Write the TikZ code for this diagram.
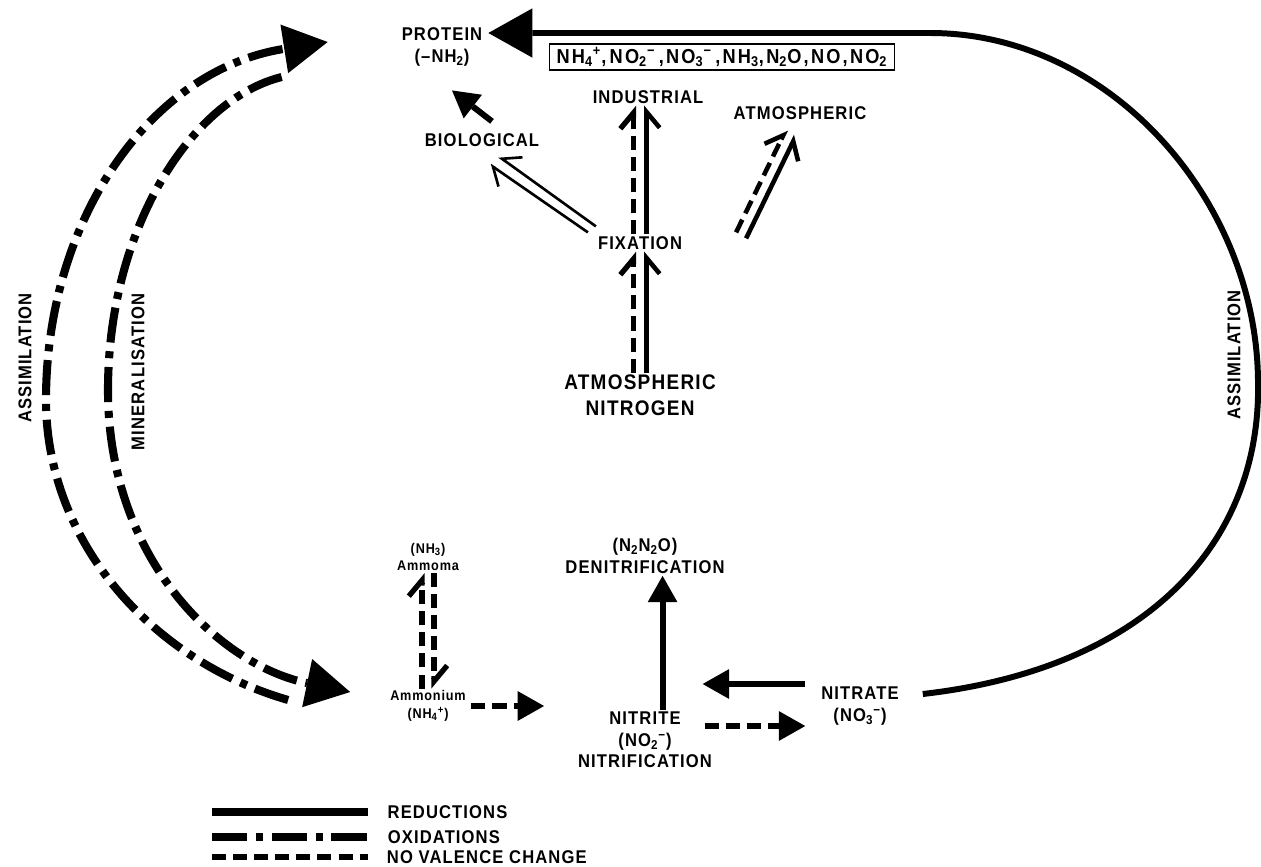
\documentclass[tikz,border=0pt]{standalone}
\usepackage{fontspec}
\setmainfont{Liberation Sans}[FakeStretch=0.9, LetterSpace=6]
\usetikzlibrary{arrows.meta, calc, positioning}

\begin{document}
\begin{tikzpicture}[x=0.02cm, y=-0.02cm,
    lbl/.style={font=\fontsize{10.5}{12.5}\selectfont\bfseries, align=center, inner sep=1pt},
    biglbl/.style={lbl, font=\fontsize{12}{14.5}\selectfont\bfseries},
    smlbl/.style={lbl, font=\fontsize{8}{10}\selectfont\bfseries},
    reduc/.style={line width=3.4pt},
    oxid/.style={line width=4.6pt, dash pattern=on 20pt off 5pt on 4pt off 5pt},
    novc/.style={line width=3pt, dash pattern=on 8pt off 4pt},
    thinl/.style={line width=1.5pt},
    bigtip/.style={-{Triangle[length=25pt, width=28pt, line width=0pt]}},
    midtip/.style={-{Triangle[length=15pt, width=17pt, line width=0pt]}},
    hl/.style={-{Straight Barb[left, length=9pt, width=15pt]}},
    hr/.style={-{Straight Barb[right, length=9pt, width=15pt]}}]
  \useasboundingbox (0,0) rectangle (1261,866);

  % compounds and processes
  \node[lbl] (protein) at (442,47) {PROTEIN\\(–NH\textsubscript{2})};
  \node[lbl, font=\fontsize{11.5}{13}\selectfont\bfseries\addfontfeatures{LetterSpace=11}, draw, line width=1.1pt,
    inner xsep=4pt, inner ysep=2pt] (mix) at (722,57)
    {NH\textsubscript{4}\textsuperscript{+},\,NO\textsubscript{2}\textsuperscript{−}\,,NO\textsubscript{3}\textsuperscript{−}\,,NH\textsubscript{3},N\textsubscript{2}O,NO,NO\textsubscript{2}};
  \node[lbl] (industrial) at (648,97) {INDUSTRIAL};
  \node[lbl] (atmos) at (800,113) {ATMOSPHERIC};
  \node[lbl] (biological) at (482,140) {BIOLOGICAL};
  \node[lbl] (fixation) at (640,243) {FIXATION};
  \node[biglbl] (atmN) at (640,395) {ATMOSPHERIC\\NITROGEN};
  \node[lbl] (denit) at (645,556) {(N\textsubscript{2}N\textsubscript{2}O)\\DENITRIFICATION};
  \node[smlbl] (ammonia) at (428,557) {(NH\textsubscript{3})\\Ammoma};
  \node[smlbl] (ammonium) at (428,706) {Ammonium\\(NH\textsubscript{4}\textsuperscript{+})};
  \node[lbl] (nitrite) at (645,731) {NITRITE\\(NO\textsubscript{2}\textsuperscript{−})};
  \node[lbl, below=0pt of nitrite] (nitrification) {NITRIFICATION};
  \node[lbl] (nitrate) at (860,706) {NITRATE\\(NO\textsubscript{3}\textsuperscript{−})};
  \node[lbl, rotate=90] (assimL) at (25,358) {ASSIMILATION};
  \node[lbl, rotate=90] (mineral) at (138,372) {MINERALISATION};
  \node[lbl, rotate=90] (assimR) at (1234,355) {ASSIMILATION};

  % nitrate back to protein, round the right
  \draw[reduc, bigtip] ($(nitrate.east)+(22,-12)$) .. controls (1150,668) and (1262,540) .. (1258,380)
    .. controls (1256,200) and (1110,33) .. (930,33) -- ($(protein.east)+(4,-14)$);
  % left arcs
  \draw[oxid, bigtip] ($(ammonium.west)+(-100,-6)$) .. controls (150,660) and (46,540) .. (46,400)
    .. controls (46,220) and (150,70) .. ($(protein.west)+(-72,-5)$);
  \draw[oxid, bigtip] ($(protein.west)+(-118,30)$) .. controls (190,100) and (108,230) .. (108,390)
    .. controls (108,560) and (220,665) .. ($(ammonium.west)+(-38,-14)$);

  % fixation
  \draw[reduc, midtip] ($(biological.north)+(10,-10)$) -- ($(protein.south)+(10,22)$);
  \draw[thinl, hl] ($(fixation.north west)+(-8,-2)$) -- ($(biological.south)+(8,16)$);
  \draw[thinl, hr] ($(fixation.north west)+(0,-8)$) -- ($(biological.south)+(17,8)$);
  \draw[novc, hl] ([xshift=-0.13cm]fixation.north) -- ([xshift=-0.13cm]fixation.north |- industrial.south);
  \draw[reduc, line width=2.6pt, hr] ([xshift=0.13cm]fixation.north) -- ([xshift=0.13cm]fixation.north |- industrial.south);
  \draw[novc, line width=2.6pt, hl] ($(fixation.north east)+(52,-2)$) -- ($(atmos.south)+(-14,8)$);
  \draw[reduc, line width=2.6pt, hr] ($(fixation.north east)+(62,4)$) -- ($(atmos.south)+(-4,14)$);
  \draw[novc, hl] ([xshift=-0.13cm]atmN.north) -- ([xshift=-0.13cm]fixation.south);
  \draw[reduc, line width=2.6pt, hr] ([xshift=0.13cm]atmN.north) -- ([xshift=0.13cm]fixation.south);

  % ammonium, nitrite, nitrate
  \draw[novc, hl] ([xshift=-0.12cm]ammonium.north) -- ([xshift=-0.12cm]ammonia.south);
  \draw[novc, hl] ([xshift=0.12cm]ammonia.south) -- ([xshift=0.12cm]ammonium.north);
  \draw[novc, midtip, shorten >=36pt] ([xshift=2pt]ammonium.east) -- (nitrite.west |- ammonium.east);
  \draw[reduc, midtip] ([xshift=10pt]nitrite.north) -- ([xshift=10pt]denit.south);
  \draw[reduc, midtip] ($(nitrate.west)+(-14,-22)$) -- ($(nitrite.east)+(20,-47)$);
  \draw[novc, midtip] ($(nitrite.east)+(22,-5)$) -- ($(nitrate.west |- nitrite.east)+(-14,-5)$);

  % legend
  \draw[reduc, line width=4.4pt] (212,812) -- (368,812) node[lbl, right=8pt] (lgred) {REDUCTIONS};
  \draw[oxid] (212,837) -- (368,837) node[lbl, right=8pt] (lgox) {OXIDATIONS};
  \draw[novc, line width=3.6pt] (212,857) -- (368,857) node[lbl, right=8pt] (lgnv) {NO VALENCE CHANGE};
\end{tikzpicture}
\end{document}
